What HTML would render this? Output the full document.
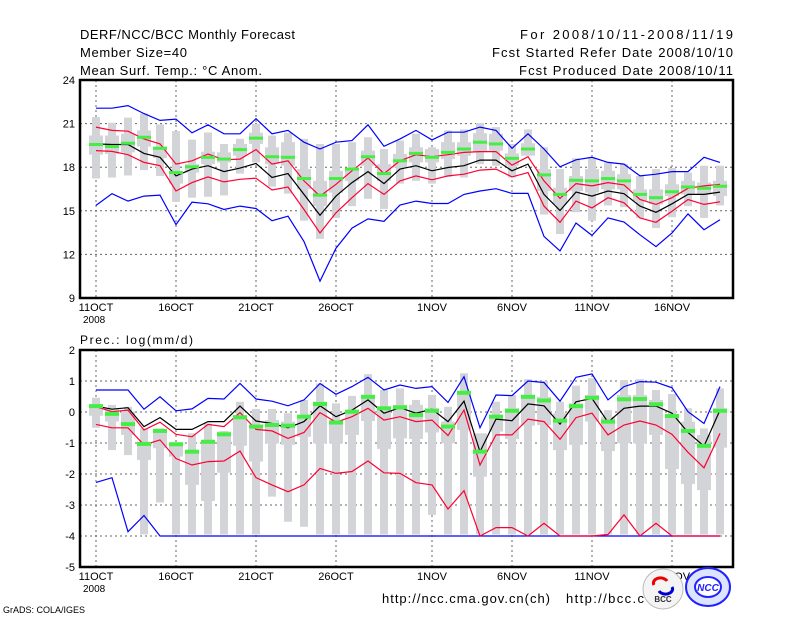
<!DOCTYPE html>
<html><head><meta charset="utf-8"><style>
body{margin:0;background:#fff;}
svg{display:block;font-family:"Liberation Sans",sans-serif;}
</style></head><body>
<svg id="c" width="800" height="618" viewBox="0 0 800 618">
<rect width="800" height="618" fill="#fff"/>
<g font-size="13" fill="#000">
<text x="80" y="39" textLength="215" lengthAdjust="spacing">DERF/NCC/BCC Monthly Forecast</text>
<text x="80" y="57" textLength="107" lengthAdjust="spacing">Member Size=40</text>
<text x="80" y="75" textLength="182" lengthAdjust="spacing">Mean Surf. Temp.: °C Anom.</text>
<text x="520" y="39" textLength="213" lengthAdjust="spacing">For 2008/10/11-2008/11/19</text>
<text x="492" y="57" textLength="241" lengthAdjust="spacing">Fcst Started Refer Date 2008/10/10</text>
<text x="519" y="75" textLength="214" lengthAdjust="spacing">Fcst Produced Date 2008/10/11</text>
</g>
<text x="80" y="344" font-size="12" textLength="113" lengthAdjust="spacing">Prec.: log(mm/d)</text>
<g id="top"></g>
<g id="bot"></g>
<text x="3" y="613" font-size="9">GrADS: COLA/IGES</text>
<text x="382" y="603" font-size="13" textLength="168" lengthAdjust="spacing">http://ncc.cma.gov.cn(ch)</text>
<text x="566" y="603" font-size="13" textLength="78" lengthAdjust="spacing">http://bcc.c</text>
<g>
<circle cx="663" cy="589" r="20" fill="#f4f4f4" stroke="#bbb"/>
<path d="M654 585 a7 5 0 1 1 13 -4" fill="none" stroke="#e00" stroke-width="3"/>
<path d="M672 587 a7 5 0 1 1 -13 4" fill="none" stroke="#00c" stroke-width="3"/>
<text x="663" y="602" font-size="8" text-anchor="middle" font-weight="bold" fill="#333">BCC</text>
</g>
<g>
<ellipse cx="708" cy="587" rx="22" ry="19" fill="#dde4ff" stroke="#22f" stroke-width="2"/>
<ellipse cx="708" cy="587" rx="13" ry="10" fill="#fff" stroke="#22f" stroke-width="2"/>
<text x="708" y="591" font-size="10" text-anchor="middle" font-weight="bold" font-style="italic" fill="#22f">NCC</text>
</g>
</svg>
<script>
var days=["11OCT","16OCT","21OCT","26OCT","1NOV","6NOV","11NOV","16NOV"];
var labelDays=[0,5,10,15,21,26,31,36];
// temperature panel data
var tBlueHi=[22.06,22.06,22.24,21.69,21.22,21.31,20.37,20.92,20.30,20.30,21.34,20.30,20.53,19.72,19.25,19.72,19.83,20.92,19.44,19.95,20.53,19.88,20.41,20.41,20.76,20.53,19.30,20.30,19.25,18.03,18.51,18.68,18.33,18.21,17.40,17.52,17.70,17.70,18.68,18.33];
var tRedHi=[20.76,20.53,20.48,19.95,19.60,18.21,18.44,18.91,18.51,18.56,19.21,18.21,18.44,17.06,16.01,16.82,17.75,18.63,17.56,18.44,18.86,18.72,18.86,19.02,19.07,19.07,18.14,18.72,17.06,15.85,16.87,16.71,16.94,16.78,15.78,15.44,15.90,16.55,16.71,16.82];
var tMean=[19.60,19.56,19.56,18.95,18.68,17.40,17.87,18.10,17.70,17.94,18.26,17.29,17.56,16.13,14.69,16.01,16.94,17.70,16.87,17.87,18.10,17.75,17.98,18.10,18.49,18.49,17.75,18.21,16.13,15.02,16.29,16.01,16.36,16.18,15.32,14.90,15.48,16.13,16.13,16.29];
var tRedLo=[19.14,19.09,18.86,18.33,18.10,16.36,16.94,17.33,16.99,17.17,17.24,16.43,16.64,15.09,13.47,14.86,15.90,16.87,16.13,17.06,17.40,17.13,17.40,17.52,17.80,17.87,17.33,17.63,15.32,14.21,15.67,15.20,15.90,15.55,14.51,14.21,14.97,15.78,15.44,15.62];
var tBlueLo=[15.37,16.18,15.67,16.01,16.08,14.05,15.60,15.48,15.09,15.32,15.16,14.32,14.63,12.89,10.16,12.43,13.81,14.44,14.28,15.39,15.67,15.50,15.50,16.13,16.36,16.52,16.20,16.20,13.24,12.24,14.16,13.31,14.51,14.23,13.35,12.54,13.47,14.79,13.70,14.39];
var tObs=[19.56,19.42,19.65,20.06,19.30,17.63,18.03,18.68,18.56,19.21,20.00,18.72,18.68,17.22,16.08,17.22,17.87,18.72,17.56,18.44,18.95,18.68,19.02,19.25,19.72,19.60,18.61,19.25,17.47,16.13,17.10,17.06,17.22,17.06,16.13,15.90,16.31,16.64,16.55,16.69];
var tMax=[21.45,21.06,21.41,21.69,20.94,20.48,19.90,20.39,19.60,19.95,20.99,20.18,20.37,19.95,19.60,19.60,19.72,20.06,19.25,19.83,20.30,19.37,20.53,20.60,21.04,20.76,19.60,20.60,19.37,17.87,18.61,18.63,18.33,18.21,17.40,17.87,17.94,17.63,18.10,18.10];
var tMin=[17.22,17.29,17.43,17.80,17.40,15.62,15.90,15.97,16.06,17.56,18.33,16.66,16.18,14.32,13.07,14.51,15.32,15.83,15.13,16.87,17.06,16.87,17.33,17.29,18.21,18.10,17.29,18.86,14.74,13.40,14.90,14.32,15.37,15.25,14.51,13.81,14.56,15.32,14.51,15.37];
var tBoxHi=[20.18,20.18,20.30,20.53,19.42,17.75,18.21,19.07,19.02,19.60,20.37,19.37,19.72,17.87,17.06,17.75,17.87,19.14,18.21,18.91,19.37,19.25,19.72,19.72,20.34,20.30,18.95,19.65,17.87,16.59,17.40,17.87,17.75,17.52,16.48,16.48,16.82,17.06,16.94,17.06];
var tBoxLo=[18.86,18.91,19.02,19.42,18.63,16.87,17.63,18.21,18.33,18.79,19.60,18.21,18.10,16.48,15.32,16.25,17.06,18.10,17.06,17.98,18.33,18.33,18.56,18.79,19.02,19.14,18.10,18.79,16.36,15.44,16.36,16.25,16.48,16.48,15.67,15.44,16.01,16.13,16.13,16.01];
var tTicks=[9,12,15,18,21,24];
// precipitation panel data
var pBlueHi=[0.71,0.71,0.71,0.09,0.49,0.04,0.10,0.44,0.42,0.92,0.42,0.35,0.20,0.39,0.92,0.57,0.82,1.12,0.71,0.87,0.76,0.82,0.31,1.14,-0.51,0.55,0.53,1.00,0.95,0.35,1.12,1.23,0.39,0.82,0.98,0.96,0.78,0.01,-0.37,0.82];
var pRedHi=[0.17,0.01,0.06,-0.58,-0.33,-0.72,-0.80,-0.40,-0.47,-0.02,-0.56,-0.61,-0.85,-0.66,-0.02,-0.33,-0.15,0.12,-0.26,-0.15,-0.31,-0.26,-0.76,0.06,-1.71,-0.74,-0.74,-0.23,-0.31,-0.88,-0.18,-0.04,-0.74,-0.42,-0.29,-0.42,-0.72,-1.30,-1.80,-0.69];
var pMean=[0.19,0.09,0.14,-0.47,-0.18,-0.56,-0.56,-0.31,-0.31,0.19,-0.29,-0.37,-0.51,-0.31,0.20,-0.15,0.06,0.39,-0.04,0.14,-0.04,0.09,-0.31,0.35,-1.28,-0.23,-0.28,0.26,0.20,-0.39,0.33,0.44,-0.33,0.12,0.19,0.19,-0.04,-0.66,-1.10,0.06];
var pRedLo=[-0.40,-0.51,-0.51,-1.06,-0.90,-1.50,-1.71,-1.60,-1.58,-1.26,-2.12,-2.35,-2.57,-2.35,-1.82,-1.98,-1.92,-1.58,-1.96,-1.98,-2.28,-2.35,-3.13,-2.54,-4.00,-3.73,-3.73,-4.00,-3.59,-4.00,-4.00,-4.00,-3.95,-3.32,-4.00,-3.59,-4.00,-4.00,-4.00,-4.00];
var pBlueLo=[-2.27,-2.12,-3.86,-3.34,-4,-4,-4,-4,-4,-4,-4,-4,-4,-4,-4,-4,-4,-4,-4,-4,-4,-4,-4,-4,-4,-4,-4,-4,-4,-4,-4,-4,-4,-4,-4,-4,-4,-4,-4,-4];
var pObs=[0.19,-0.06,-0.39,-1.03,-0.61,-1.04,-1.28,-0.96,-0.72,-0.17,-0.47,-0.42,-0.44,-0.15,0.26,-0.34,0.01,0.49,0.12,0.15,-0.10,0.04,-0.47,0.62,-1.28,-0.15,0.04,0.49,0.37,-0.28,0.19,0.46,-0.31,0.41,0.42,0.25,-0.13,-0.61,-1.09,0.04];
var pMax=[0.46,0.23,0.17,-0.53,-0.53,-1.01,-0.69,-0.37,-0.61,0.33,0.10,0.10,-0.04,0.39,0.92,0.28,0.52,1.22,0.71,0.76,0.39,0.55,0.17,1.25,-0.69,0.33,0.55,1.06,1.00,0.33,0.85,1.09,0.06,1.03,1.06,0.71,0.58,0.12,-0.53,0.76];
var pMin=[-0.51,-1.23,-1.39,-3.95,-2.92,-3.95,-3.95,-3.95,-3.95,-3.95,-3.95,-2.73,-3.54,-3.70,-3.95,-3.95,-3.95,-3.95,-3.95,-3.95,-3.95,-3.32,-3.95,-3.95,-3.95,-3.95,-3.95,-3.95,-3.95,-3.95,-3.95,-3.95,-3.95,-3.95,-3.95,-3.95,-3.95,-3.95,-3.95,-3.95];
var pBoxHi=[0.23,0.12,0.01,-0.96,-0.58,-1.06,-1.28,-0.90,-0.63,-0.10,-0.42,-0.26,-0.31,-0.10,0.33,-0.26,0.06,0.55,0.17,0.23,0.23,0.12,-0.31,0.66,-0.69,-0.10,0.12,0.55,0.49,-0.04,0.28,0.55,-0.15,0.55,0.55,0.39,-0.10,-0.31,-0.74,0.12];
var pBoxLo=[-0.12,-0.31,-0.74,-1.55,-1.17,-1.44,-2.35,-2.87,-1.96,-1.09,-1.60,-1.01,-1.06,-0.80,-1.01,-1.01,-0.74,-0.29,-1.19,-0.85,-0.87,-0.66,-1.01,-0.58,-2.09,-0.63,-0.87,-0.44,-0.42,-1.23,-1.06,-0.31,-1.26,-1.01,-1.01,-0.74,-1.84,-2.32,-2.52,-1.15];
var pTicks=[-5,-4,-3,-2,-1,0,1,2];

var NS="http://www.w3.org/2000/svg";
var L=80,R=733;
function xs(d){return 96+16*d;}
function mk(p,tag,a){var e=document.createElementNS(NS,tag);for(var k in a)e.setAttribute(k,a[k]);p.appendChild(e);return e;}
function panel(g,top,bot,vmin,vmax,ticks,S){
  function ys(v){return bot-(v-vmin)*(bot-top)/(vmax-vmin);}
  var i,e;
  for(i=0;i<ticks.length;i++){
    var y=ys(ticks[i]);
    if(i>0&&i<ticks.length-1){e=mk(g,'line',{x1:L,x2:R,y1:y,y2:y,stroke:'#666','stroke-dasharray':'2,3'});
    
    }
    e=mk(g,'text',{x:75,y:y+4,'font-size':11,'text-anchor':'end'});e.textContent=ticks[i];
    
    
  }
  for(i=0;i<labelDays.length;i++){
    var x=xs(labelDays[i]);
    e=mk(g,'line',{x1:x,x2:x,y1:top,y2:bot,stroke:'#666','stroke-dasharray':'2,3'});
    
    
    e=mk(g,'text',{x:x,y:bot+13,'font-size':11,'text-anchor':'middle'});e.textContent=days[i];
    
    
  }
  e=mk(g,'text',{x:83,y:bot+25,'font-size':10});e.textContent='2008';
  
  
  for(i=0;i<40;i++){
    var x=xs(i);
    e=mk(g,'rect',{x:x-4,y:ys(S.mx[i]),width:8,height:ys(S.mn[i])-ys(S.mx[i]),fill:'#d3d4d8'});
    
    
    e=mk(g,'rect',{x:x-7,y:ys(S.bh[i]),width:14,height:ys(S.bl[i])-ys(S.bh[i]),fill:'#d3d4d8'});
    
    
  }
  var lines=[[S.blo,'#0000ff','blue-lower-line'],[S.bhi,'#0000ff','blue-upper-line'],[S.rlo,'#ff0033','red-lower-line'],[S.rhi,'#ff0033','red-upper-line'],[S.m,'#000','ensemble-mean-line']];
  for(var j=0;j<lines.length;j++){
    var pts=lines[j][0].map(function(v,k){return xs(k)+','+ys(v).toFixed(1);}).join(' ');
    e=mk(g,'polyline',{points:pts,fill:'none',stroke:lines[j][1],'stroke-width':1.2});
    
    
  }
  for(i=0;i<40;i++){
    e=mk(g,'rect',{x:xs(i)-7,y:ys(S.o[i])-S.gh/2,width:14,height:S.gh,fill:'#44ee44'});
    
    
  }
  e=mk(g,'rect',{x:L,y:top,width:R-L,height:bot-top,fill:'none',stroke:'#000','stroke-width':2.5});
  
  
}
panel(document.getElementById('top'),80,298,9,24,tTicks,{mx:tMax,mn:tMin,bh:tBoxHi,bl:tBoxLo,bhi:tBlueHi,rhi:tRedHi,m:tMean,rlo:tRedLo,blo:tBlueLo,o:tObs,gh:3});
panel(document.getElementById('bot'),350,567,-5,2,pTicks,{mx:pMax,mn:pMin,bh:pBoxHi,bl:pBoxLo,bhi:pBlueHi,rhi:pRedHi,m:pMean,rlo:pRedLo,blo:pBlueLo,o:pObs,gh:4});
</script>
</body></html>
